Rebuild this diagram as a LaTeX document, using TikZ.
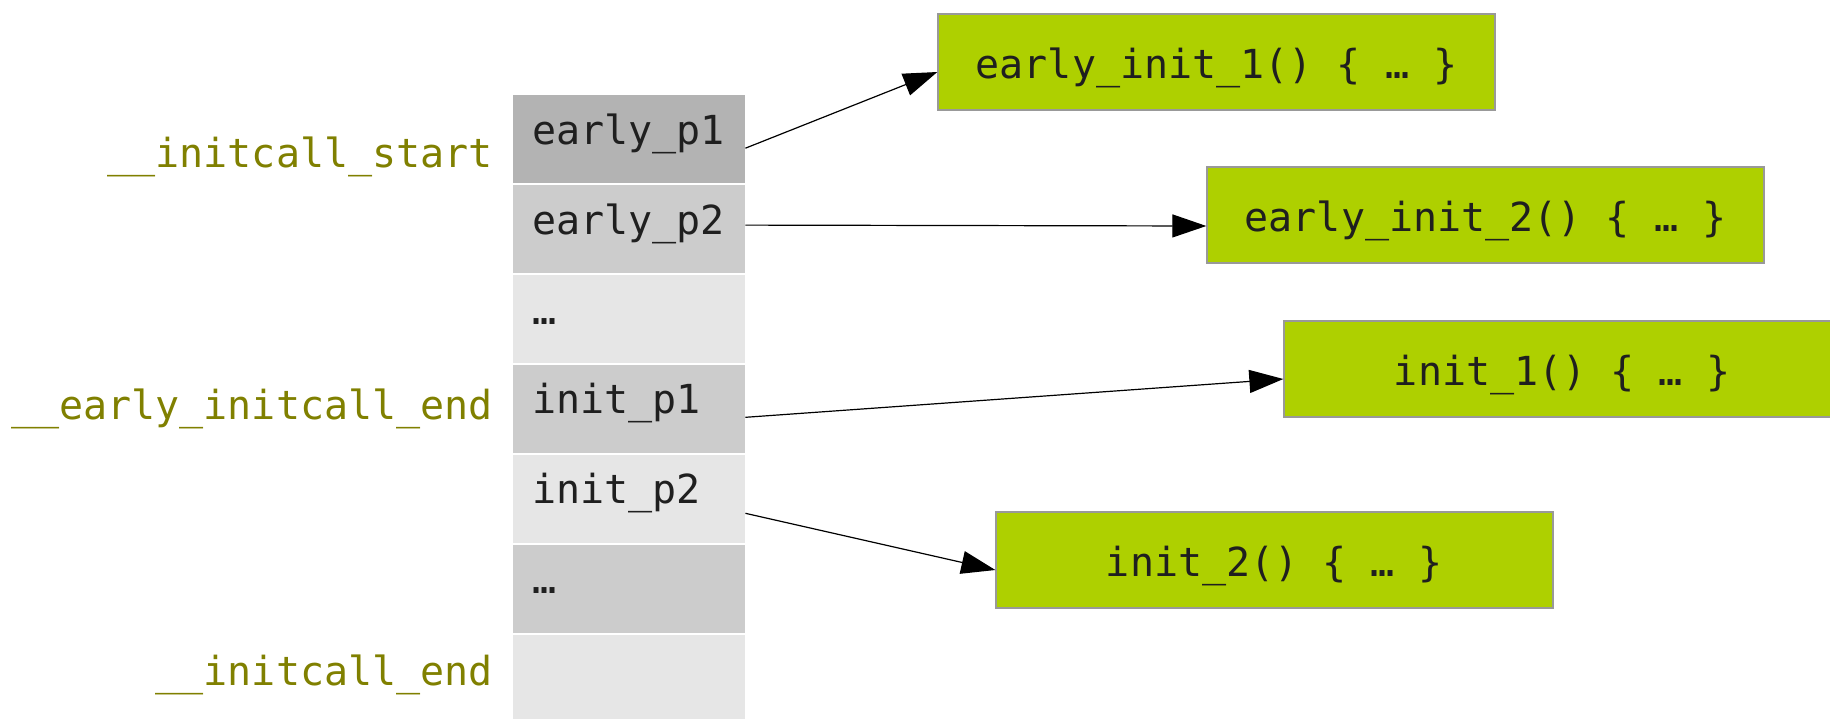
\documentclass[tikz,border=0pt]{standalone}
\usepackage{fontspec}
\setmonofont{DejaVu Sans Mono}
\usetikzlibrary{arrows.meta}
\definecolor{gA}{HTML}{B3B3B3}
\definecolor{gB}{HTML}{CCCCCC}
\definecolor{gC}{HTML}{E6E6E6}
\definecolor{lime}{RGB}{174,208,0}
\definecolor{limeborder}{HTML}{999999}
\definecolor{olive}{HTML}{808000}
\tikzset{
  code/.style={font=\ttfamily\fontsize{40}{48}\selectfont},
  slot/.style={code, anchor=north west, minimum width=232pt, text width=194pt,
    align=left, inner xsep=19pt, inner ysep=0pt, text height=49pt, text depth=39pt,
    text=black!88},
  func/.style={code, draw=limeborder, line width=1.3pt, fill=lime, minimum width=557pt,
    inner ysep=0pt, text height=64pt, text depth=32pt, text=black!88},
  symlabel/.style={code, anchor=base east, text=olive, inner sep=0pt},
  arr/.style={-{Triangle[length=34pt,width=23pt]}, line width=1.2pt, black}
}
\begin{document}
\begin{tikzpicture}[x=1pt,y=-1pt]
\useasboundingbox (0,0) rectangle (1830,718);
\clip (0,0) rectangle (1830,718);
% column of slots
\node[slot, fill=gA] (p1)  at (513,95.0)  {early\_p1};
\node[slot, fill=gB] (p2)  at (513,184.9) {early\_p2};
\node[slot, fill=gC] (d1)  at (513,274.8) {…};
\node[slot, fill=gB] (ip1) at (513,364.7) {init\_p1};
\node[slot, fill=gC] (ip2) at (513,454.6) {init\_p2};
\node[slot, fill=gB] (d2)  at (513,544.5) {…};
\node[slot, fill=gC] (e)   at (513,634.4) {};
% symbol labels
\node[symlabel] (ls) at (493,167) {\_\_initcall\_start};
\node[symlabel] (le) at (493,419) {\_\_early\_initcall\_end};
\node[symlabel] (li) at (493,685) {\_\_initcall\_end};
% functions
\node[func] (f1) at (1216.5,62)  {early\_init\_1() \{ … \}};
\node[func] (f2) at (1485.5,215) {early\_init\_2() \{ … \}};
\node[func] (f3) at (1562.5,369) {init\_1() \{ … \}};
\node[func] (f4) at (1274.5,560) {init\_2() \{ … \}};
% arrows
\draw[arr] ([yshift=-9pt]p1.east)    -- ([yshift=-10pt]f1.west);
\draw[arr] ([yshift=4pt]p2.east)     -- ([yshift=-11pt]f2.west);
\draw[arr] ([yshift=-8.4pt]ip1.east) -- ([yshift=-10pt]f3.west);
\draw[arr] ([yshift=-14.5pt]ip2.east) -- ([yshift=-10pt]f4.west);
\end{tikzpicture}
\end{document}
